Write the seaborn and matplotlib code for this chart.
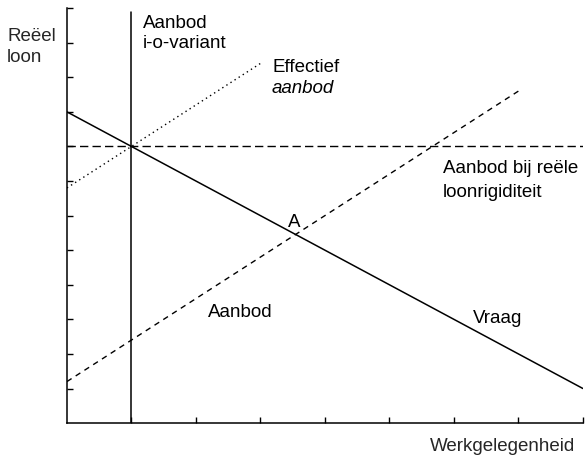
import matplotlib
matplotlib.use("Agg")
import matplotlib.pyplot as plt
import seaborn as sns

# lines of the diagram (werkgelegenheid, reeel loon)
vraag_x = [0, 8]
vraag_y = [9, 1]
aanbod_x = [0, 7]
aanbod_y = [1.2, 9.6]
effectief_x = [0, 3]
effectief_y = [6.8, 10.4]
rigide_x = [0, 8]
rigide_y = [8, 8]
io_x = [1, 1]
io_y = [0, 11.9]

x_ticks = [1, 2, 3, 4, 5, 6, 7, 8]
y_ticks = [1, 2, 3, 4, 5, 6, 7, 8, 9, 10, 11, 12]

sns.set_style("ticks")
plt.rcParams['font.family'] = ['Liberation Sans', 'DejaVu Sans']

fig = plt.figure(figsize=(5.87, 4.56), dpi=100)
ax = fig.add_axes([0.114, 0.070, 0.879, 0.910])

line = dict(ax=ax, color='black', estimator=None, sort=False)
sns.lineplot(x=vraag_x, y=vraag_y, lw=1.1, **line)
sns.lineplot(x=io_x, y=io_y, lw=1.1, **line)
sns.lineplot(x=aanbod_x, y=aanbod_y, lw=1.0, linestyle=(0, (4, 3.5)), **line)
sns.lineplot(x=rigide_x, y=rigide_y, lw=1.0, linestyle=(0, (6, 3)), **line)
sns.lineplot(x=effectief_x, y=effectief_y, lw=1.0, linestyle=(0, (1, 2.5)), **line)

ax.set_xlim(0, 8)
ax.set_ylim(0, 12)
ax.set_xticks(x_ticks)
ax.set_yticks(y_ticks)
ax.set_xticklabels([])
ax.set_yticklabels([])
ax.tick_params(direction='in', length=4, width=1.0, color='black')
for s in ['top', 'right']:
    ax.spines[s].set_visible(False)
for s in ['left', 'bottom']:
    ax.spines[s].set_color('black')
    ax.spines[s].set_linewidth(1.1)

fs = 13.5
kw = dict(fontsize=fs, va='baseline', color='black')
ax.text(1.18, 11.45, 'Aanbod', **kw)
ax.text(1.18, 10.87, 'i-o-variant', **kw)
ax.text(3.18, 10.17, 'Effectief', **kw)
ax.text(3.18, 9.57, 'aanbod', style='italic', **kw)
ax.text(5.83, 7.25, 'Aanbod bij reële', clip_on=False, **kw)
ax.text(5.83, 6.56, 'loonrigiditeit', **kw)
ax.text(3.53, 5.69, 'A', ha='center', **kw)
ax.text(2.19, 3.09, 'Aanbod', **kw)
ax.text(6.29, 2.92, 'Vraag', **kw)

fig.text(0.012, 0.910, 'Reëel', fontsize=fs, va='baseline')
fig.text(0.012, 0.864, 'loon', fontsize=fs, va='baseline')
fig.text(0.980, 0.010, 'Werkgelegenheid', fontsize=fs, va='baseline', ha='right')

fig.savefig('out.png', dpi=100)
